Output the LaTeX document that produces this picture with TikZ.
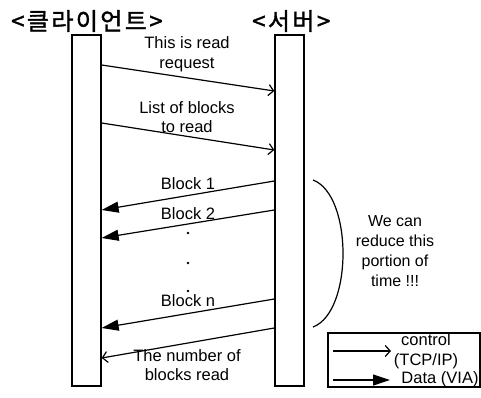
\documentclass[tikz,border=0pt]{standalone}
\usepackage{fontspec}
\setmainfont{Liberation Sans}
\newfontfamily\krfont[FakeBold=1.5,LetterSpace=10]{Noto Sans CJK KR}
\usetikzlibrary{arrows.meta}
\begin{document}
\begin{tikzpicture}[x=1pt,y=-1pt,
  lifeline/.style={draw,line width=1.3pt,minimum width=29pt,minimum height=351pt,inner sep=0pt},
  ctl/.style={line width=1.2pt,-{Straight Barb[length=5pt,width=11pt,line width=1.2pt]}},
  dat/.style={line width=1.2pt,-{Triangle[length=17pt,width=11pt]}},
  lbl/.style={font=\fontsize{16.5}{19.5}\selectfont,align=center,inner sep=0pt},
  ttl/.style={font=\krfont\fontsize{24}{26}\selectfont,inner sep=0pt,anchor=west},
  dot/.style={circle,fill,inner sep=0pt,minimum size=2.6pt}]
\useasboundingbox (0,0) rectangle (481,398);

% titles
\node[ttl] (tcl) at (11,21) {<클라이언트>};
\node[ttl] (tsv) at (252,21) {<서버>};

% lifelines
\node[lifeline] (cl) at (86.5,210.5) {};
\node[lifeline] (sv) at (289.5,210.5) {};

% control messages
\draw[ctl] (cl.east |- 0,65) -- (sv.west |- 0,91);
\node[lbl] (m1) at (187,54) {This is read\\request};
\draw[ctl] (cl.east |- 0,123) -- (sv.west |- 0,150);
\node[lbl] (m2) at (187,117) {List of blocks\\to read};

% data blocks
\draw[dat] (sv.west |- 0,181) -- (cl.east |- 0,210);
\node[lbl] (b1) at (188,184) {Block 1};
\draw[dat] (sv.west |- 0,210) -- (cl.east |- 0,238);
\node[lbl] (b2) at (188,214) {Block 2};
\node[dot] (d1) at (188,233) {};
\node[dot] (d2) at (188,263) {};
\node[dot] (d3) at (188,291) {};
\draw[dat] (sv.west |- 0,299) -- (cl.east |- 0,328);
\node[lbl] (bn) at (188,301) {Block n};

% reply
\draw[ctl] (sv.west |- 0,328) -- (cl.east |- 0,358);
\node[lbl] (m3) at (187,365) {The number of\\blocks read};

% bracket and note
\coordinate (bt) at (313,180);
\coordinate (bb) at (313,327);
\draw[line width=1.2pt] (bt) .. controls (353,195) and (353,312) .. (bb);
\node[lbl,font=\fontsize{16}{20}\selectfont] (note) at (395,251) {We can\\reduce this\\portion of\\time !!!};

% legend
\node[draw,line width=1.2pt,minimum width=152pt,minimum height=54pt,inner sep=0pt] (leg) at (404,360) {};
\coordinate (c1) at (333,351);
\coordinate (c2) at (391,351);
\coordinate (e1) at (333,380);
\coordinate (e2) at (390,380);
\draw[ctl] (c1) -- (c2);
\draw[dat] (e1) -- (e2);
\node[lbl] (lc) at (426,351) {control\\(TCP/IP)};
\node[lbl] (ld) at (440,379) {Data (VIA)};
\end{tikzpicture}
\end{document}
